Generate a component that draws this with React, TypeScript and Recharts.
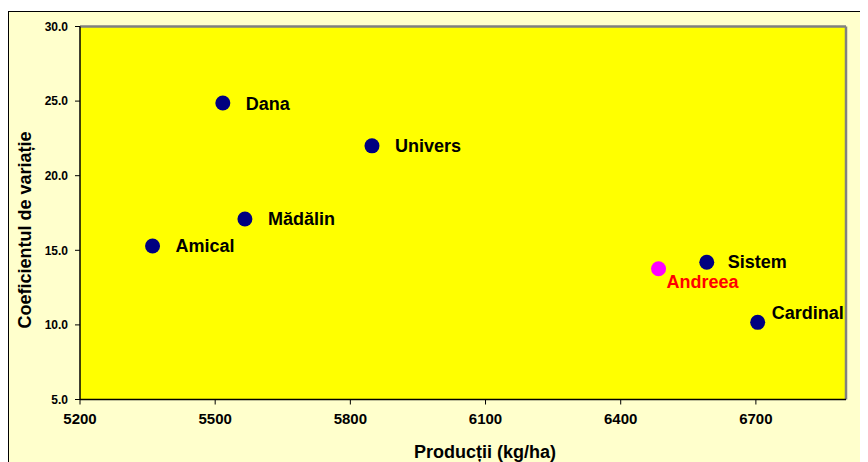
import React from 'react';
import { ScatterChart, Scatter, XAxis, YAxis, CartesianGrid, ReferenceLine, Label } from 'recharts';

const varieties = ['Dana', 'Univers', 'Mădălin', 'Amical', 'Sistem', 'Cardinal'];
const productions = [5517, 5848, 5566, 5361, 6591, 6704];
const cvs = [24.87, 22.0, 17.1, 15.29, 14.2, 10.17];

const controlNames = ['Andreea'];
const controlProductions = [6484];
const controlCvs = [13.76];

const xTicks = [5200, 5500, 5800, 6100, 6400, 6700];
const yTicks = [5, 10, 15, 20, 25, 30];

const xTitle = 'Producții (kg/ha)';
const yTitle = 'Coeficientul de variație';

const varietyData = varieties.map((name, i) => ({ name, x: productions[i], y: cvs[i] }));
const controlData = controlNames.map((name, i) => ({ name, x: controlProductions[i], y: controlCvs[i] }));

const FONT = '"Liberation Sans", Arial, sans-serif';

const labelOffsets: Record<string, { dx: number; dy: number }> = {
  Sistem: { dx: 21, dy: -1 },
  Cardinal: { dx: 14, dy: -10 },
  Andreea: { dx: 8, dy: 13 },
};

const makeShape = (fill: string, textColor: string) => (props: any) => {
  const { cx, cy, payload } = props;
  const off = labelOffsets[payload.name] || { dx: 23, dy: 0 };
  return (
    <g>
      <circle cx={cx} cy={cy} r={7.5} fill={fill} />
      <text
        x={cx + off.dx}
        y={cy + off.dy + 6.5}
        fill={textColor}
        fontFamily={FONT}
        fontWeight="bold"
        fontSize={18}
      >
        {payload.name}
      </text>
    </g>
  );
};

const XTick = (props: any) => {
  const { x, y, payload } = props;
  return (
    <text
      x={x}
      y={y + 17.5}
      textAnchor="middle"
      fontFamily={FONT}
      fontWeight="bold"
      fontSize={15}
      fill="#000"
    >
      {payload.value}
    </text>
  );
};

const YTick = (props: any) => {
  const { x, y, payload } = props;
  return (
    <text
      x={x}
      y={y + 4.3}
      textAnchor="end"
      fontFamily={FONT}
      fontWeight="bold"
      fontSize={12}
      fill="#000"
    >
      {Number(payload.value).toFixed(1)}
    </text>
  );
};

const XTitle = (props: any) => {
  const vb = props.viewBox;
  return (
    <text
      x={vb.x + vb.width / 2 + 22}
      y={vb.y + 58.5}
      textAnchor="middle"
      fontFamily={FONT}
      fontWeight="bold"
      fontSize={18}
      fill="#000"
    >
      {xTitle}
    </text>
  );
};

const YTitle = (props: any) => {
  const vb = props.viewBox;
  const x = vb.x + 16;
  const y = vb.y + vb.height / 2 + 17;
  return (
    <text
      x={x}
      y={y}
      transform={`rotate(-90, ${x}, ${y})`}
      textAnchor="middle"
      dominantBaseline="central"
      fontFamily={FONT}
      fontWeight="bold"
      fontSize={18}
      fill="#000"
    >
      {yTitle}
    </text>
  );
};

export default function App() {
  return (
    <div style={{ paddingTop: 3 }}>
      <div
        style={{
          width: 859,
          height: 450,
          background: '#FFFFCC',
          borderTop: '1px solid #000',
          borderLeft: '1px solid #000',
        }}
      >
        <ScatterChart width={859} height={450} margin={{ top: 14.5, right: 22, left: 0, bottom: 0 }}>
          <CartesianGrid fill="#FFFF00" stroke="none" horizontal={false} vertical={false} />
          <XAxis
            type="number"
            dataKey="x"
            domain={[5200, 6900]}
            ticks={xTicks}
            allowDataOverflow
            height={62.5}
            tickSize={5}
            tickMargin={2}
            axisLine={{ stroke: '#000', strokeWidth: 1.5 }}
            tickLine={{ stroke: '#000' }}
            tick={<XTick />}
          >
            <Label content={<XTitle />} />
          </XAxis>
          <YAxis
            type="number"
            dataKey="y"
            domain={[5, 30]}
            ticks={yTicks}
            allowDataOverflow
            width={71}
            tickSize={5}
            tickMargin={7}
            axisLine={{ stroke: '#000', strokeWidth: 1.5 }}
            tickLine={{ stroke: '#000' }}
            tick={<YTick />}
          >
            <Label content={<YTitle />} />
          </YAxis>
          <ReferenceLine y={30} stroke="#808080" strokeWidth={2.5} />
          <ReferenceLine x={6900} stroke="#808080" strokeWidth={2.5} />
          <Scatter
            data={varietyData}
            isAnimationActive={false}
            shape={makeShape('#000080', '#000')}
          />
          <Scatter
            data={controlData}
            isAnimationActive={false}
            shape={makeShape('#FF00FF', '#FF0000')}
          />
        </ScatterChart>
      </div>
    </div>
  );
}
